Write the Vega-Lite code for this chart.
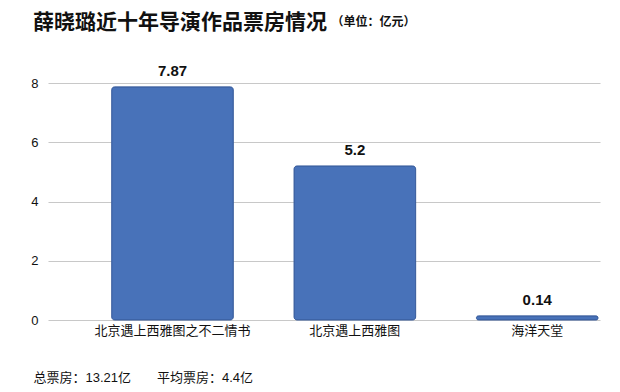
{
  "$schema": "https://vega.github.io/schema/vega-lite/v6.json",
  "autosize": "none",
  "width": 552,
  "height": 237,
  "padding": {"left": 48, "top": 83, "right": 20, "bottom": 72},
  "background": "white",
  "config": {
    "font": "Liberation Sans, Noto Sans CJK SC",
    "view": {"stroke": null}
  },
  "title": {
    "text": "薛晓璐近十年导演作品票房情况",
    "anchor": "start",
    "frame": "group",
    "dx": -15,
    "offset": -18,
    "fontSize": 21,
    "fontWeight": "bold",
    "color": "#111111",
    "font": "Noto Sans CJK SC"
  },
  "data": {
    "values": [
      {"film": "北京遇上西雅图之不二情书", "boxoffice": 7.87, "label": "7.87"},
      {"film": "北京遇上西雅图", "boxoffice": 5.2, "label": "5.2"},
      {"film": "海洋天堂", "boxoffice": 0.14, "label": "0.14"}
    ]
  },
  "encoding": {
    "x": {
      "field": "film",
      "type": "nominal",
      "sort": null,
      "scale": {"paddingInner": 0.333, "paddingOuter": 0.18, "align": 0.97},
      "axis": {
        "title": "总票房：13.21亿\u3000\u3000平均票房：4.4亿",
        "titleAnchor": "start",
        "titleAlign": "left",
        "titleBaseline": "middle",
        "titleX": -15,
        "titleY": 57,
        "titleFontSize": 13,
        "titleFontWeight": "normal",
        "titleColor": "#111111",
        "labelAngle": 0,
        "labelFontSize": 13,
        "labelColor": "#111111",
        "labelPadding": 4,
        "labelFont": "Noto Sans CJK SC",
        "ticks": false,
        "domain": false
      }
    },
    "y": {
      "field": "boxoffice",
      "type": "quantitative",
      "scale": {"domain": [0, 8]},
      "axis": {
        "values": [0, 2, 4, 6, 8],
        "title": "（单位：亿元）",
        "titleAngle": 0,
        "titleAlign": "left",
        "titleBaseline": "middle",
        "titleX": 283,
        "titleY": -62,
        "titleFontSize": 12,
        "titleFontWeight": "bold",
        "titleColor": "#111111",
        "labelFontSize": 13,
        "labelColor": "#111111",
        "labelPadding": 10,
        "ticks": false,
        "domain": false,
        "grid": true,
        "gridColor": "#c8c8c8",
        "gridWidth": 1.2
      }
    }
  },
  "layer": [
    {
      "mark": {"type": "bar", "color": "#4872B9", "stroke": "#3A5E9E", "strokeWidth": 1, "cornerRadius": 3}
    },
    {
      "mark": {"type": "text", "dy": -16, "fontSize": 15, "fontWeight": "bold", "color": "#111111"},
      "encoding": {"text": {"field": "label", "type": "nominal"}}
    }
  ]
}
